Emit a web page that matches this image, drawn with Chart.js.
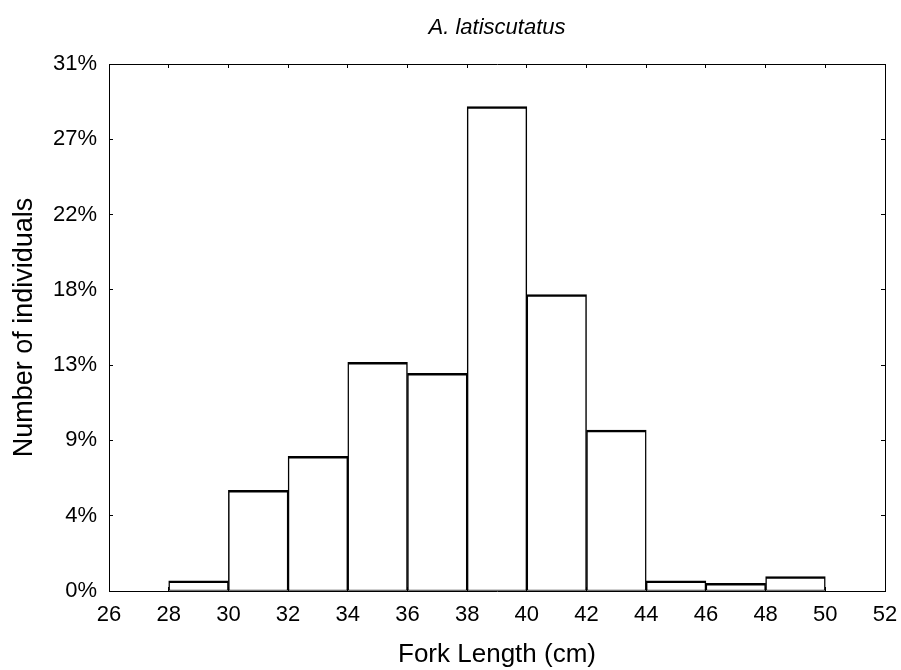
<!DOCTYPE html>
<html>
<head>
<meta charset="utf-8">
<script src="https://cdn.jsdelivr.net/npm/chart.js@4"></script>
<style>
  body { margin: 0; background: #fff; }
  #wrap { width: 901px; height: 670px; }
</style>
</head>
<body>
<div id="wrap"><canvas id="histo" width="901" height="670"></canvas></div>
<script>
// Fork length histogram, A. latiscutatus

const binCenters = [29, 31, 33, 35, 37, 39, 41, 43, 45, 47, 49];
const percentIndividuals = [0.6, 5.95, 7.95, 13.5, 12.85, 28.6, 17.5, 9.5, 0.6, 0.45, 0.85];
const yTickLabels = ['0%', '4%', '9%', '13%', '18%', '22%', '27%', '31%'];
const yMax = 31.11;
const xMin = 26;
const xMax = 52;

const ink = '#000';
const fontFamily = '"Liberation Sans", Arial, sans-serif';

function percentTicks(scale) {
  scale.ticks = yTickLabels.map((_, i) => ({ value: i * yMax / (yTickLabels.length - 1) }));
}

// no extra room for overhanging tick labels, the frame is fixed
function noPad(s) {
  s.paddingLeft = 0;
  s.paddingRight = 0;
  s.paddingTop = 0;
  s.paddingBottom = 0;
}

const tickGrid = {
  drawOnChartArea: false,
  drawTicks: true,
  tickLength: -4,
  color: ink,
  lineWidth: 1
};
const frameBorder = { display: true, color: ink, width: 1 };

var ctx = document.getElementById('histo').getContext('2d');
var chart = new Chart(ctx, {
  type: 'bar',
  data: {
    datasets: [{
      label: 'Number of individuals',
      data: binCenters.map((x, i) => ({ x: x, y: percentIndividuals[i] })),
      backgroundColor: '#fff',
      borderColor: ink,
      borderWidth: { top: 2.5, left: 1.5, right: 1.5, bottom: 1 },
      borderSkipped: false,
      barPercentage: 1,
      categoryPercentage: 1
    }]
  },
  options: {
    responsive: false,
    animation: false,
    layout: { padding: 0 },
    plugins: {
      legend: { display: false },
      tooltip: { enabled: false }
    },
    scales: {
      x: {
        type: 'linear',
        position: 'bottom',
        min: xMin,
        max: xMax,
        offset: false,
        grid: Object.assign({ offset: false }, tickGrid),
        border: frameBorder,
        ticks: {
          stepSize: 2,
          maxRotation: 0,
          autoSkip: false,
          padding: 15,
          color: ink,
          font: { family: fontFamily, size: 22 }
        },
        title: {
          display: true,
          text: 'Fork Length (cm)',
          color: ink,
          font: { family: fontFamily, size: 26 },
          padding: { top: 0, bottom: 0 }
        },
        afterFit: (s) => { s.height = 79; noPad(s); }
      },
      xTop: {
        type: 'linear',
        position: 'top',
        min: xMin,
        max: xMax,
        offset: false,
        grid: Object.assign({ offset: false }, tickGrid),
        border: frameBorder,
        ticks: { stepSize: 2, display: false },
        title: {
          display: true,
          text: 'A. latiscutatus',
          color: ink,
          font: { family: fontFamily, size: 22, style: 'italic' },
          padding: { top: 15, bottom: 0 }
        },
        afterFit: (s) => { s.height = 64; noPad(s); }
      },
      y: {
        type: 'linear',
        position: 'left',
        min: 0,
        max: yMax,
        grid: tickGrid,
        border: frameBorder,
        afterBuildTicks: percentTicks,
        ticks: {
          padding: 16,
          color: ink,
          font: { family: fontFamily, size: 22 },
          callback: (v, i) => yTickLabels[i]
        },
        title: {
          display: true,
          text: 'Number of individuals',
          color: ink,
          font: { family: fontFamily, size: 27 },
          padding: { top: 8, bottom: 0 }
        },
        afterFit: (s) => { s.width = 109; noPad(s); }
      },
      yRight: {
        type: 'linear',
        position: 'right',
        min: 0,
        max: yMax,
        grid: tickGrid,
        border: frameBorder,
        afterBuildTicks: percentTicks,
        ticks: { display: false },
        afterFit: (s) => { s.width = 16; noPad(s); }
      }
    }
  }
});
</script>
</body>
</html>
